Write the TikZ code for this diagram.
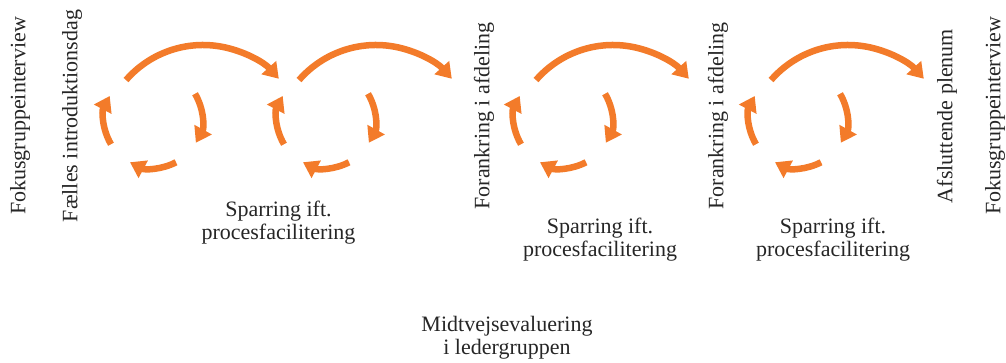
\documentclass[tikz,border=0pt]{standalone}
\usepackage{fontspec}
\setmainfont{Liberation Serif}
\usetikzlibrary{arrows.meta}
\definecolor{orng}{RGB}{243,123,42}
\begin{document}
\begin{tikzpicture}[x=1pt,y=1pt,
  cyc/.style={draw=orng, line width=6.5pt, -{Triangle[width=19pt,length=15pt]}},
  lbl/.style={font=\fontsize{22}{23}\selectfont, align=center, inner sep=0pt, text=black!85},
  vlbl/.style={font=\fontsize{22}{23}\selectfont, rotate=90, inner sep=0pt, text=black!85}]
\useasboundingbox (0,0) rectangle (1006,363);
\foreach \n/\dx in {1/0,2/173,3/410,4/645}{
  \coordinate (s\n) at (153+\dx,244);
  \coordinate (b\n) at (203+\dx,216);
  \draw[cyc] ([shift={(211:49)}]s\n) arc[start angle=211,end angle=152,radius=49];
  \draw[cyc] ([shift={(31:49)}]s\n) arc[start angle=31,end angle=-29,radius=49];
  \draw[cyc] ([shift={(-62:49)}]s\n) arc[start angle=-62,end angle=-118,radius=49];
  \draw[cyc] ([shift={(139:102)}]b\n) arc[start angle=139,end angle=42,radius=102];
}
\node[vlbl] (fok1) at (20,247) {Fokusgruppeinterview};
\node[vlbl] (intro) at (72,247) {Fælles introduktionsdag};
\node[vlbl] (for1) at (484,247) {Forankring i afdeling};
\node[vlbl] (for2) at (718,247) {Forankring i afdeling};
\node[vlbl] (afs) at (947,247) {Afsluttende plenum};
\node[vlbl] (fok2) at (995,247) {Fokusgruppeinterview};
\node[lbl] (sp1) at (278.5,140) {Sparring ift.\\procesfacilitering};
\node[lbl] (sp2) at (600,123) {Sparring ift.\\procesfacilitering};
\node[lbl] (sp3) at (833,123) {Sparring ift.\\procesfacilitering};
\node[lbl] (mid) at (507,25) {Midtvejsevaluering\\i ledergruppen};
\end{tikzpicture}
\end{document}
